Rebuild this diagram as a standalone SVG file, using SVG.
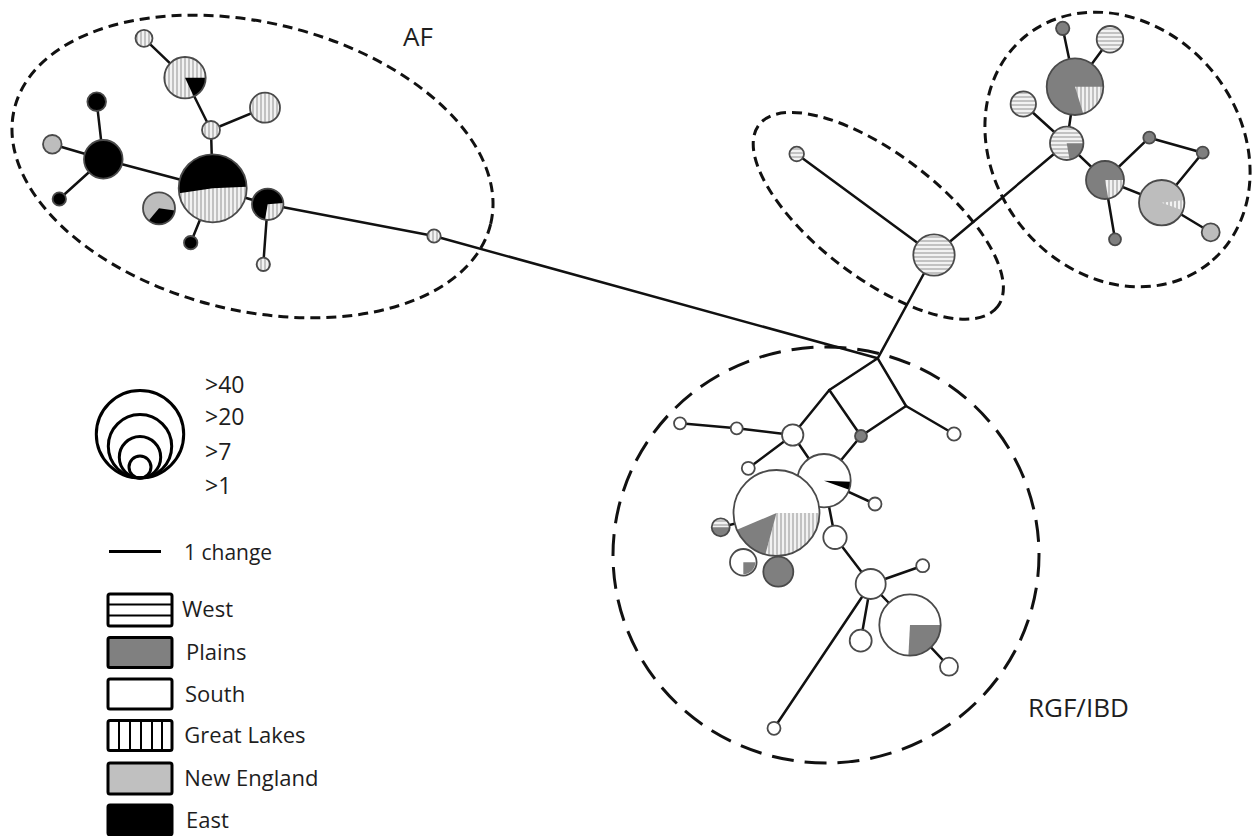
<svg xmlns="http://www.w3.org/2000/svg" width="1253" height="836" viewBox="0 0 1253 836">
<defs>
<pattern id="gl" width="4" height="4" patternUnits="userSpaceOnUse"><rect width="4" height="4" fill="#f2f2f2"/><line x1="1" y1="0" x2="1" y2="4" stroke="#a8a8a8" stroke-width="1.3"/></pattern>
<pattern id="we" width="4" height="4" patternUnits="userSpaceOnUse"><rect width="4" height="4" fill="#f2f2f2"/><line x1="0" y1="1" x2="4" y2="1" stroke="#a8a8a8" stroke-width="1.3"/></pattern>
</defs>
<style>
.grp{fill:none;stroke:#111;stroke-width:3;stroke-dasharray:10 6}
.grp2{fill:none;stroke:#111;stroke-width:3;stroke-dasharray:22 11}
.e{stroke:#111;stroke-width:2.5;fill:none;stroke-linecap:round}
.o{stroke:#4a4a4a;stroke-width:1.8;fill:none}
.w{fill:#fff}.pl{fill:#7f7f7f}.ne{fill:#bdbdbd}.ea{fill:#000}.gl{fill:url(#gl)}.we{fill:url(#we)}
.t{font-family:"Open Sans","Liberation Sans",sans-serif;fill:#1e1e1e}
.lb{fill:#fff;stroke:#000;stroke-width:3}
.sz{fill:none;stroke:#000;stroke-width:3}
</style>
<rect width="1253" height="836" fill="#fff"/>
<g id="groups">
<ellipse class="grp" cx="252.5" cy="166.5" rx="245" ry="144" transform="rotate(13.6 252.5 166.5)"/>
<ellipse class="grp" cx="878.3" cy="215.8" rx="150" ry="62" transform="rotate(37.3 878.3 215.8)"/>
<ellipse class="grp" cx="1117.5" cy="149.5" rx="146" ry="123" transform="rotate(51 1117.5 149.5)"/>
<ellipse class="grp2" cx="826" cy="555" rx="213" ry="208"/>
</g>
<g id="connectors" class="e">
<line x1="144" y1="38.3" x2="185" y2="77.7"/>
<line x1="185" y1="77.7" x2="211" y2="130"/>
<line x1="211" y1="130" x2="265" y2="107.7"/>
<line x1="211" y1="130" x2="212.7" y2="188.3"/>
<line x1="103.3" y1="159.3" x2="212.7" y2="188.3"/>
<line x1="103.3" y1="159.3" x2="96.7" y2="101.7"/>
<line x1="103.3" y1="159.3" x2="52.3" y2="144.3"/>
<line x1="103.3" y1="159.3" x2="59.3" y2="199"/>
<line x1="212.7" y1="188.3" x2="190.7" y2="242.7"/>
<line x1="212.7" y1="188.3" x2="267.7" y2="204.3"/>
<line x1="267.7" y1="204.3" x2="263.3" y2="264.3"/>
<line x1="267.7" y1="204.3" x2="434" y2="236"/>
<line x1="434" y1="236" x2="877.7" y2="358.3"/>
<line x1="796.7" y1="154" x2="934" y2="255"/>
<line x1="934" y1="255" x2="877.7" y2="358.3"/>
<line x1="934" y1="255" x2="1066.7" y2="143.3"/>
<line x1="1062.7" y1="28.3" x2="1075" y2="86.7"/>
<line x1="1110" y1="39.3" x2="1075" y2="86.7"/>
<line x1="1075" y1="86.7" x2="1066.7" y2="143.3"/>
<line x1="1023.3" y1="104" x2="1066.7" y2="143.3"/>
<line x1="1066.7" y1="143.3" x2="1105" y2="180"/>
<line x1="1105" y1="180" x2="1149.3" y2="137.7"/>
<line x1="1149.3" y1="137.7" x2="1202.7" y2="152.7"/>
<line x1="1202.7" y1="152.7" x2="1161.7" y2="202.7"/>
<line x1="1105" y1="180" x2="1161.7" y2="202.7"/>
<line x1="1105" y1="180" x2="1115" y2="239.3"/>
<line x1="1161.7" y1="202.7" x2="1210.7" y2="232.3"/>
<line x1="877.7" y1="358.3" x2="829.3" y2="390"/>
<line x1="877.7" y1="358.3" x2="906" y2="406"/>
<line x1="829.3" y1="390" x2="792.7" y2="435"/>
<line x1="829.3" y1="390" x2="861" y2="436"/>
<line x1="906" y1="406" x2="861" y2="436"/>
<line x1="906" y1="406" x2="954" y2="434"/>
<line x1="861" y1="436" x2="824" y2="480.7"/>
<line x1="792.7" y1="435" x2="824" y2="480.7"/>
<line x1="792.7" y1="435" x2="736.7" y2="428.3"/>
<line x1="736.7" y1="428.3" x2="680" y2="423.3"/>
<line x1="792.7" y1="435" x2="748.3" y2="468.3"/>
<line x1="824" y1="480.7" x2="875" y2="504"/>
<line x1="824" y1="480.7" x2="835" y2="537.3"/>
<line x1="720.7" y1="527.3" x2="776.5" y2="513"/>
<line x1="835" y1="537.3" x2="870.7" y2="584"/>
<line x1="870.7" y1="584" x2="922.7" y2="565.7"/>
<line x1="870.7" y1="584" x2="860.7" y2="640.7"/>
<line x1="870.7" y1="584" x2="910" y2="625"/>
<line x1="870.7" y1="584" x2="774" y2="728.3"/>
<line x1="910" y1="625" x2="949" y2="666.7"/>
</g>
<g id="n-af1"><circle class="gl" cx="144" cy="38.3" r="8.5"/><circle class="o" cx="144" cy="38.3" r="8.5"/></g>
<g id="n-af2"><circle class="gl" cx="185" cy="77.7" r="20.7"/><path class="ea" d="M185,77.7 L205.7,77.7 A20.7,20.7 0 0 1 193.75,96.46 Z"/><circle class="o" cx="185" cy="77.7" r="20.7"/></g>
<g id="n-af3"><circle class="gl" cx="211" cy="130" r="9"/><circle class="o" cx="211" cy="130" r="9"/></g>
<g id="n-af4"><circle class="gl" cx="265" cy="107.7" r="15"/><circle class="o" cx="265" cy="107.7" r="15"/></g>
<g id="n-af5"><circle class="gl" cx="212.7" cy="188.3" r="34"/><path class="ea" d="M212.7,188.3 L179.07,193.33 A34,34 0 1 1 246.66,186.64 Z"/><circle class="o" cx="212.7" cy="188.3" r="34"/></g>
<g id="n-af6"><circle class="ea" cx="103.3" cy="159.3" r="19.3"/><circle class="o" cx="103.3" cy="159.3" r="19.3"/></g>
<g id="n-af7"><circle class="ea" cx="96.7" cy="101.7" r="9.3"/><circle class="o" cx="96.7" cy="101.7" r="9.3"/></g>
<g id="n-af8"><circle class="ne" cx="52.3" cy="144.3" r="9.3"/><circle class="o" cx="52.3" cy="144.3" r="9.3"/></g>
<g id="n-af9"><circle class="ea" cx="59.3" cy="199" r="6.7"/><circle class="o" cx="59.3" cy="199" r="6.7"/></g>
<g id="n-af10"><circle class="ne" cx="159" cy="208.3" r="16"/><path class="ea" d="M159,208.3 L174.84,210.53 A16,16 0 0 1 148.72,220.56 Z"/><circle class="o" cx="159" cy="208.3" r="16"/></g>
<g id="n-af11"><circle class="ea" cx="190.7" cy="242.7" r="6.7"/><circle class="o" cx="190.7" cy="242.7" r="6.7"/></g>
<g id="n-af12"><circle class="ea" cx="267.7" cy="204.3" r="15.7"/><path class="gl" d="M267.7,204.3 L283.34,202.93 A15.7,15.7 0 0 1 264.97,219.76 Z"/><circle class="o" cx="267.7" cy="204.3" r="15.7"/></g>
<g id="n-af13"><circle class="gl" cx="263.3" cy="264.3" r="6.7"/><circle class="o" cx="263.3" cy="264.3" r="6.7"/></g>
<g id="n-af14"><circle class="gl" cx="434" cy="236" r="6.7"/><circle class="o" cx="434" cy="236" r="6.7"/></g>
<g id="n-w1"><circle class="we" cx="796.7" cy="154" r="7.3"/><circle class="o" cx="796.7" cy="154" r="7.3"/></g>
<g id="n-w2"><circle class="we" cx="934" cy="255" r="20.7"/><circle class="o" cx="934" cy="255" r="20.7"/></g>
<g id="n-r1"><circle class="pl" cx="1062.7" cy="28.3" r="6.7"/><circle class="o" cx="1062.7" cy="28.3" r="6.7"/></g>
<g id="n-r2"><circle class="we" cx="1110" cy="39.3" r="13.3"/><circle class="o" cx="1110" cy="39.3" r="13.3"/></g>
<g id="n-r3"><circle class="pl" cx="1075" cy="86.7" r="28.3"/><path class="gl" d="M1075,86.7 L1103.3,86.7 A28.3,28.3 0 0 1 1083.27,113.76 Z"/><circle class="o" cx="1075" cy="86.7" r="28.3"/></g>
<g id="n-r4"><circle class="we" cx="1023.3" cy="104" r="12.7"/><circle class="o" cx="1023.3" cy="104" r="12.7"/></g>
<g id="n-r5"><circle class="we" cx="1066.7" cy="143.3" r="16.7"/><path class="pl" d="M1066.7,143.3 L1083.4,143.3 A16.7,16.7 0 0 1 1069.6,159.75 Z"/><circle class="o" cx="1066.7" cy="143.3" r="16.7"/></g>
<g id="n-r6"><circle class="pl" cx="1105" cy="180" r="19"/><path class="gl" d="M1105,180 L1124,180 A19,19 0 0 1 1108.3,198.71 Z"/><circle class="o" cx="1105" cy="180" r="19"/></g>
<g id="n-r7"><circle class="pl" cx="1149.3" cy="137.7" r="6"/><circle class="o" cx="1149.3" cy="137.7" r="6"/></g>
<g id="n-r8"><circle class="pl" cx="1202.7" cy="152.7" r="6"/><circle class="o" cx="1202.7" cy="152.7" r="6"/></g>
<g id="n-r9"><circle class="ne" cx="1161.7" cy="202.7" r="22.7"/><path class="gl" d="M1161.7,202.7 L1184.23,199.93 A22.7,22.7 0 0 1 1183.03,210.46 Z"/><circle class="o" cx="1161.7" cy="202.7" r="22.7"/></g>
<g id="n-r10"><circle class="pl" cx="1115" cy="239.3" r="6"/><circle class="o" cx="1115" cy="239.3" r="6"/></g>
<g id="n-r11"><circle class="ne" cx="1210.7" cy="232.3" r="9"/><circle class="o" cx="1210.7" cy="232.3" r="9"/></g>
<g id="n-g1"><circle class="w" cx="954" cy="434" r="6.7"/><circle class="o" cx="954" cy="434" r="6.7"/></g>
<g id="n-g2"><circle class="w" cx="792.7" cy="435" r="10.7"/><circle class="o" cx="792.7" cy="435" r="10.7"/></g>
<g id="n-p1"><circle class="pl" cx="861" cy="436" r="6"/><circle class="o" cx="861" cy="436" r="6"/></g>
<g id="n-g3"><circle class="w" cx="736.7" cy="428.3" r="6"/><circle class="o" cx="736.7" cy="428.3" r="6"/></g>
<g id="n-g4"><circle class="w" cx="680" cy="423.3" r="6"/><circle class="o" cx="680" cy="423.3" r="6"/></g>
<g id="n-g5"><circle class="w" cx="748.3" cy="468.3" r="6.5"/><circle class="o" cx="748.3" cy="468.3" r="6.5"/></g>
<g id="n-g6"><circle class="w" cx="824" cy="480.7" r="26.7"/><path class="ea" d="M824,480.7 L850.68,481.63 A26.7,26.7 0 0 1 849.09,489.83 Z"/><circle class="o" cx="824" cy="480.7" r="26.7"/></g>
<g id="n-g7"><circle class="w" cx="875" cy="504" r="6.5"/><circle class="o" cx="875" cy="504" r="6.5"/></g>
<g id="n-g8"><circle class="w" cx="776.5" cy="513" r="43"/><path class="gl" d="M776.5,513 L819.5,513 A43,43 0 0 1 765.37,554.53 Z"/><path class="pl" d="M776.5,513 L765.37,554.53 A43,43 0 0 1 736.92,529.8 Z"/><circle class="o" cx="776.5" cy="513" r="43"/></g>
<g id="n-g9"><circle class="pl" cx="720.7" cy="527.3" r="9"/><path class="we" d="M711.7,527.3 A9,9 0 0 1 729.7,527.3 Z"/><circle class="o" cx="720.7" cy="527.3" r="9"/></g>
<g id="n-g10"><circle class="w" cx="743.3" cy="562.3" r="13.3"/><path class="pl" d="M743.3,562.3 L755.3,562.3 A12,12 0 0 1 743.3,574.3 Z"/><circle class="o" cx="743.3" cy="562.3" r="13.3"/></g>
<g id="n-g11"><circle class="pl" cx="778.3" cy="571.7" r="15"/><circle class="o" cx="778.3" cy="571.7" r="15"/></g>
<g id="n-g12"><circle class="w" cx="835" cy="537.3" r="11.7"/><circle class="o" cx="835" cy="537.3" r="11.7"/></g>
<g id="n-g13"><circle class="w" cx="870.7" cy="584" r="15"/><circle class="o" cx="870.7" cy="584" r="15"/></g>
<g id="n-g14"><circle class="w" cx="922.7" cy="565.7" r="6.5"/><circle class="o" cx="922.7" cy="565.7" r="6.5"/></g>
<g id="n-g15"><circle class="w" cx="860.7" cy="640.7" r="11"/><circle class="o" cx="860.7" cy="640.7" r="11"/></g>
<g id="n-g16"><circle class="w" cx="910" cy="625" r="30.7"/><path class="pl" d="M910,625 L940.7,625 A30.7,30.7 0 0 1 908.39,655.66 Z"/><circle class="o" cx="910" cy="625" r="30.7"/></g>
<g id="n-g17"><circle class="w" cx="949" cy="666.7" r="9"/><circle class="o" cx="949" cy="666.7" r="9"/></g>
<g id="n-g18"><circle class="w" cx="774" cy="728.3" r="6.5"/><circle class="o" cx="774" cy="728.3" r="6.5"/></g>
<g id="labels">
<text class="t" x="403" y="46" font-size="26">AF</text>
<text class="t" x="1028" y="716.7" font-size="26">RGF/IBD</text>
</g>
<g id="legend-size">
<circle class="sz" cx="140" cy="434.3" r="43.7"/>
<circle class="sz" cx="140" cy="446.3" r="31.7"/>
<circle class="sz" cx="140" cy="457.3" r="20.7"/>
<circle class="sz" cx="140" cy="467" r="11"/>
<text class="t" x="205" y="392.7" font-size="23">&gt;40</text>
<text class="t" x="205" y="425" font-size="23">&gt;20</text>
<text class="t" x="205" y="460" font-size="23">&gt;7</text>
<text class="t" x="205" y="494" font-size="23">&gt;1</text>
</g>
<g id="legend-change">
<line x1="109" y1="551.5" x2="161" y2="551.5" stroke="#000" stroke-width="3"/>
<text class="t" x="184" y="560" font-size="21">1 change</text>
</g>
<g id="legend-regions">
<rect class="lb" x="108" y="594" width="64" height="32" rx="2"/>
<line x1="108" y1="604.5" x2="172" y2="604.5" stroke="#000" stroke-width="2"/>
<line x1="108" y1="615.5" x2="172" y2="615.5" stroke="#000" stroke-width="2"/>
<text class="t" x="182" y="617.3" font-size="22">West</text>
<rect class="lb" x="108" y="637.5" width="64" height="30" rx="2" style="fill:#808080"/>
<text class="t" x="186" y="660" font-size="22">Plains</text>
<rect class="lb" x="108" y="679" width="64" height="30" rx="2"/>
<text class="t" x="185" y="701.7" font-size="22">South</text>
<rect class="lb" x="108" y="720.5" width="64" height="30" rx="2"/>
<line x1="119" y1="720.5" x2="119" y2="750.5" stroke="#000" stroke-width="2"/>
<line x1="130" y1="720.5" x2="130" y2="750.5" stroke="#000" stroke-width="2"/>
<line x1="141" y1="720.5" x2="141" y2="750.5" stroke="#000" stroke-width="2"/>
<line x1="152" y1="720.5" x2="152" y2="750.5" stroke="#000" stroke-width="2"/>
<line x1="162" y1="720.5" x2="162" y2="750.5" stroke="#000" stroke-width="2"/>
<text class="t" x="184.3" y="743.3" font-size="22">Great Lakes</text>
<rect class="lb" x="108" y="763" width="64" height="31" rx="2" style="fill:#c0c0c0"/>
<text class="t" x="184.3" y="785.5" font-size="22">New England</text>
<rect class="lb" x="108" y="805" width="64" height="30" rx="2" style="fill:#000"/>
<text class="t" x="186" y="828.3" font-size="22">East</text>
</g>
</svg>
